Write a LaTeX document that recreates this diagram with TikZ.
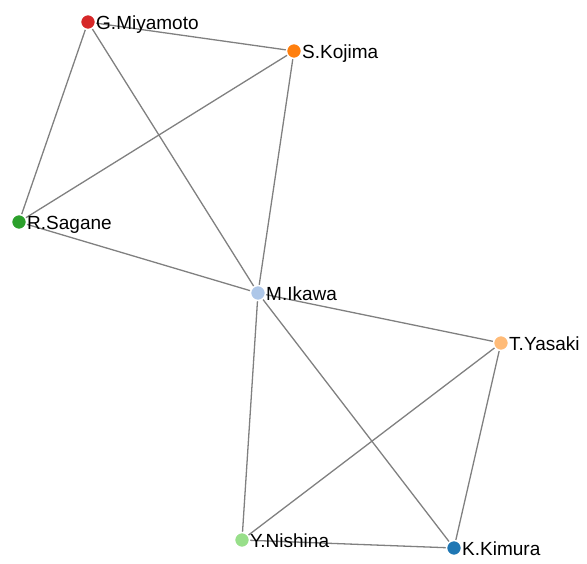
\documentclass[tikz,border=0pt]{standalone}
\usepackage{fontspec}
\setmainfont{Liberation Sans}
\begin{document}
\begin{tikzpicture}[x=1pt,y=-1pt,
  link/.style={draw=black!50, line width=1.3pt},
  dot/.style={circle, draw=white, line width=1.5pt, minimum size=15pt, inner sep=0pt},
  lbl/.style={anchor=base west, inner sep=0pt, font=\fontsize{19}{22}\selectfont, text=black}]
\useasboundingbox (0,0) rectangle (587,563);
\definecolor{cRed}{HTML}{D62728}
\definecolor{cOrange}{HTML}{FF7F0E}
\definecolor{cGreen}{HTML}{2CA02C}
\definecolor{cLBlue}{HTML}{AEC7E8}
\definecolor{cLOrange}{HTML}{FFBB78}
\definecolor{cLGreen}{HTML}{98DF8A}
\definecolor{cBlue}{HTML}{1F77B4}
% node positions
\coordinate (g) at (88,22);
\coordinate (s) at (294,51);
\coordinate (r) at (19,222);
\coordinate (m) at (258,293);
\coordinate (t) at (501,343);
\coordinate (y) at (242,540);
\coordinate (k) at (454,548);
% links
\draw[link] (g) -- (s);
\draw[link] (g) -- (r);
\draw[link] (g) -- (m);
\draw[link] (s) -- (r);
\draw[link] (s) -- (m);
\draw[link] (r) -- (m);
\draw[link] (m) -- (t);
\draw[link] (m) -- (y);
\draw[link] (m) -- (k);
\draw[link] (t) -- (y);
\draw[link] (t) -- (k);
\draw[link] (y) -- (k);
% circles
\node[dot, fill=cRed] (gd) at (g) {};
\node[dot, fill=cOrange] (sd) at (s) {};
\node[dot, fill=cGreen] (rd) at (r) {};
\node[dot, fill=cLBlue] (md) at (m) {};
\node[dot, fill=cLOrange] (td) at (t) {};
\node[dot, fill=cLGreen] (yd) at (y) {};
\node[dot, fill=cBlue] (kd) at (k) {};
% labels
\node[lbl] (gl) at ([shift={(8,7)}]g) {G.Miyamoto};
\node[lbl] (sl) at ([shift={(8,7)}]s) {S.Kojima};
\node[lbl] (rl) at ([shift={(8,7)}]r) {R.Sagane};
\node[lbl] (ml) at ([shift={(8,7)}]m) {M.Ikawa};
\node[lbl] (tl) at ([shift={(8,7)}]t) {T.Yasaki};
\node[lbl] (yl) at ([shift={(8,7)}]y) {Y.Nishina};
\node[lbl] (kl) at ([shift={(8,7)}]k) {K.Kimura};
\end{tikzpicture}
\end{document}
